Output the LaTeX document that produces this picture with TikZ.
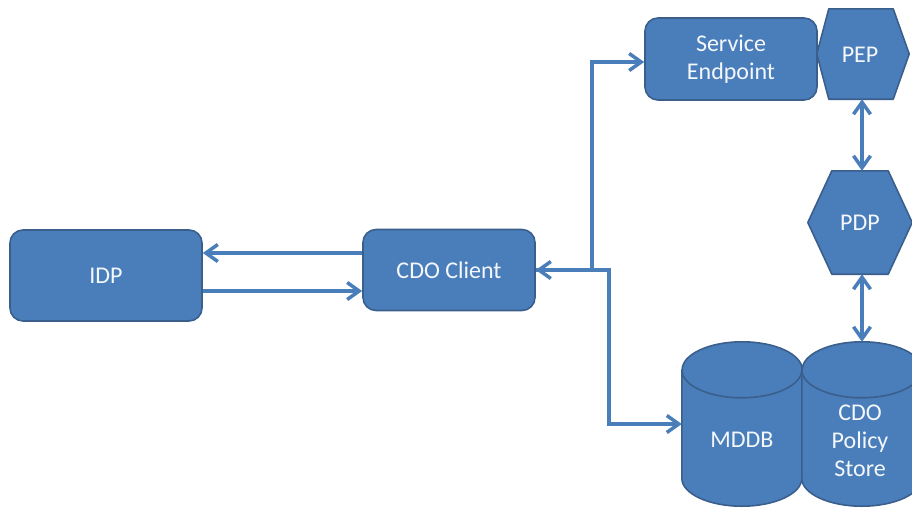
\documentclass[tikz,border=0pt]{standalone}
\usepackage{fontspec}
\setmainfont{Carlito}
\usetikzlibrary{arrows.meta,calc}
\pgfdeclarelayer{background}
\pgfdeclarelayer{paper}
\pgfsetlayers{paper,background,main}
\definecolor{boxfill}{HTML}{4A7EBB}
\definecolor{boxline}{HTML}{3A5F8C}
\definecolor{linkblue}{HTML}{4A7EBB}
\definecolor{labeltext}{HTML}{F4F7FB}
\tikzset{
  x=1pt, y=-1pt,
  lbl/.style={text=labeltext, font=\fontsize{24}{28}\selectfont, align=center},
  roundbox/.style={lbl, rectangle, rounded corners=13pt, fill=boxfill, draw=boxline, line width=1.6pt, inner sep=0pt},
  slot/.style={rectangle, inner sep=0pt, draw=none},
  solid shape/.style={fill=boxfill, draw=boxline, line width=1.6pt, line join=round},
  link/.style={draw=linkblue, line width=3.5pt, line join=miter,
    arrows={-Straight Barb[length=12pt,width=17pt]}},
  link2/.style={link, arrows={Straight Barb[length=12pt,width=17pt]-Straight Barb[length=12pt,width=17pt]}},
}
\begin{document}
\begin{tikzpicture}
\useasboundingbox (0,0) rectangle (912,509);
\clip (0,0) rectangle (912,509);
\begin{pgfonlayer}{paper}
  \fill[white] (0,0) rectangle (912,509);
\end{pgfonlayer}

% rounded boxes
\node[roundbox, minimum width=192pt, minimum height=91pt] (idp) at (106,275.5) {IDP};
\node[roundbox, minimum width=172pt, minimum height=81pt] (cdo) at (449,270) {CDO Client};
\node[roundbox, minimum width=172pt, minimum height=82pt] (se) at (731,59) {Service\\Endpoint};

% hexagons: frames for the outlines, labels on top
\node[slot, minimum width=92pt, minimum height=90pt] (pep) at (863,54) {};
\node[lbl] (pep-text) at (860,55) {PEP};
\node[slot, minimum width=104pt, minimum height=103pt] (pdp) at (860,222.5) {};
\node[lbl] (pdp-text) at (pdp) {PDP};

% cylinders
\node[slot, minimum width=120pt, minimum height=164pt] (mddb) at (742,424) {};
\node[lbl] (mddb-text) at (742,440) {MDDB};
\node[slot, minimum width=120pt, minimum height=164pt] (store) at (862,424) {};
\node[lbl] (store-text) at (860,441) {CDO\\Policy\\Store};

\begin{pgfonlayer}{background}
  % PEP hexagon
  \draw[solid shape] (pep.west) -- ($(pep.north west)+(12,0)$) -- ($(pep.north east)+(-16,0)$)
    -- (pep.east) -- ($(pep.south east)+(-16,0)$) -- ($(pep.south west)+(12,0)$) -- cycle;
  % PDP hexagon
  \draw[solid shape] (pdp.west) -- ($(pdp.north west)+(24,0)$) -- ($(pdp.north east)+(-24,0)$)
    -- (pdp.east) -- ($(pdp.south east)+(-24,0)$) -- ($(pdp.south west)+(24,0)$) -- cycle;
  % MDDB cylinder
  \draw[solid shape] ($(mddb.north west)+(0,28)$) -- ($(mddb.south west)+(0,-28)$)
    arc (180:360:60pt and 28pt) -- ($(mddb.north east)+(0,28)$)
    arc (0:180:60pt and 28pt) -- cycle;
  \draw[boxline, line width=1.6pt] ($(mddb.north west)+(0,28)$) arc (180:360:60pt and 28pt);
  % policy store cylinder
  \draw[solid shape] ($(store.north west)+(0,28)$) -- ($(store.south west)+(0,-28)$)
    arc (180:360:60pt and 28pt) -- ($(store.north east)+(0,28)$)
    arc (0:180:60pt and 28pt) -- cycle;
  \draw[boxline, line width=1.6pt] ($(store.north west)+(0,28)$) arc (180:360:60pt and 28pt);
\end{pgfonlayer}

% connectors
\draw[link] (cdo.west |- 0,253) -- (idp.east |- 0,253);
\draw[link] (idp.east |- 0,291) -- (cdo.west |- 0,291);
\draw[link2] (cdo.east) -- (592,270) |- (se.west |- 0,62);
\draw[link] (cdo.east) -- (609,270) |- (mddb.west |- 0,424);
\draw[link2] (pep.south -| store.north) -- (pdp.north -| store.north);
\draw[link2] (pdp.south -| store.north) -- (store.north);
\end{tikzpicture}
\end{document}
